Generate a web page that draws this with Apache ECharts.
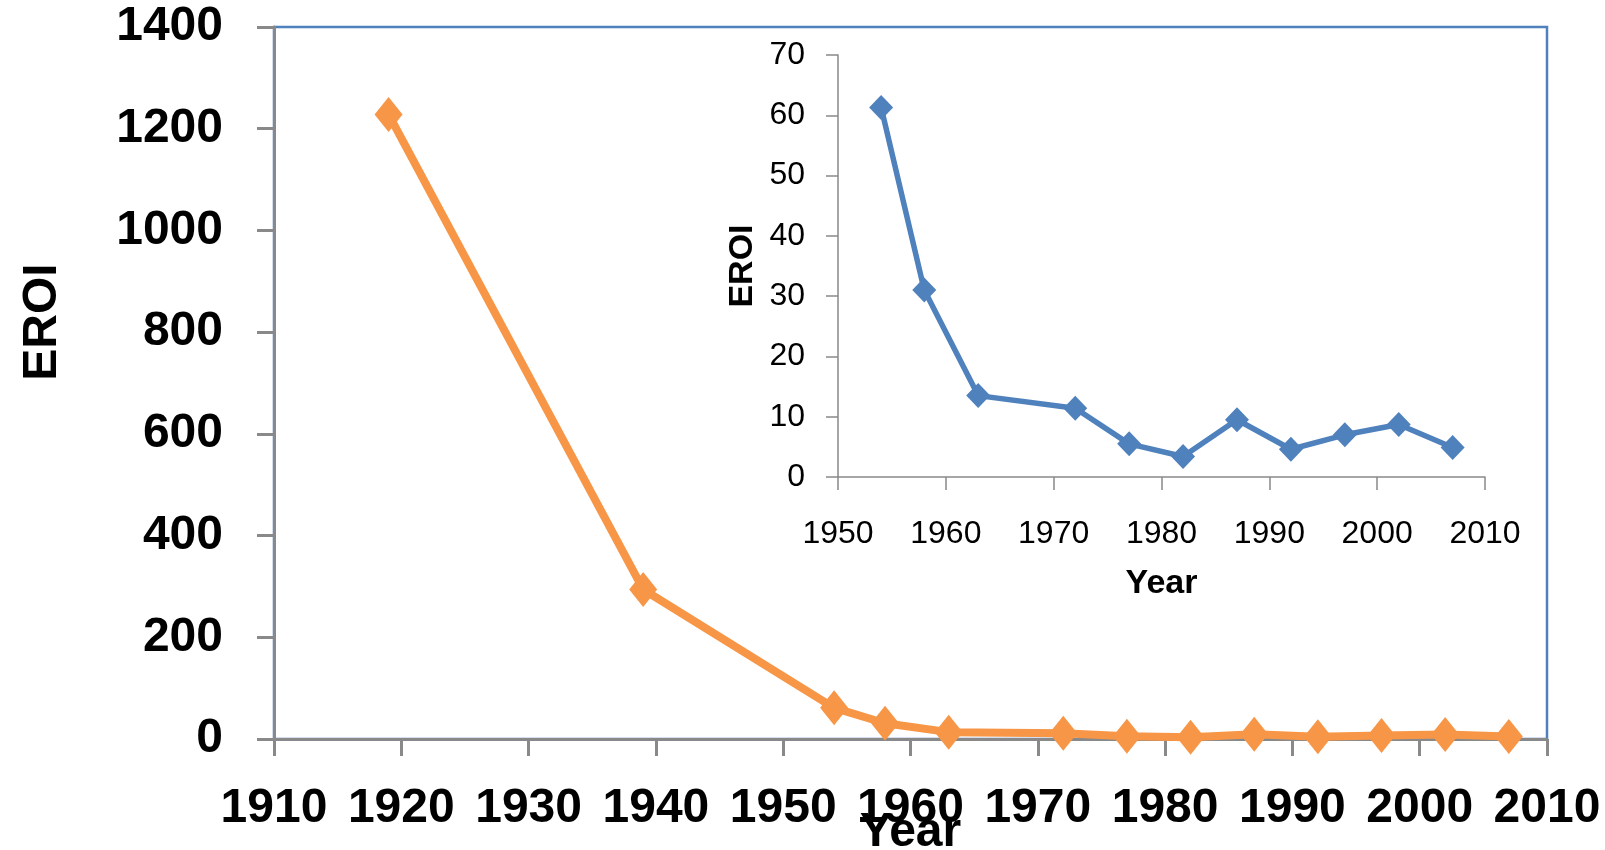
<!DOCTYPE html>
<html>
<head>
<meta charset="utf-8">
<script src="https://cdn.jsdelivr.net/npm/echarts@6/dist/echarts.min.js"></script>
<style>
html,body{margin:0;padding:0;background:#fff;}
#chart{width:1605px;height:850px;}
</style>
</head>
<body>
<div id="chart"></div>
<script>
// Main chart data
const mainYears = [1919, 1939, 1954, 1958, 1963, 1972, 1977, 1982, 1987, 1992, 1997, 2002, 2007];
const mainEroi  = [1228, 294, 61.3, 31, 13.5, 11.4, 5.5, 3.4, 9.5, 4.6, 7, 8.7, 4.9];
// Inset chart data
const insetYears = [1954, 1958, 1963, 1972, 1977, 1982, 1987, 1992, 1997, 2002, 2007];
const insetEroi  = [61.3, 31, 13.5, 11.4, 5.5, 3.4, 9.5, 4.6, 7, 8.7, 4.9];

const mainPairs = mainYears.map((y, i) => [y, mainEroi[i]]);
const insetPairs = insetYears.map((y, i) => [y, insetEroi[i]]);

const chart = echarts.init(document.getElementById('chart'));
const grey = '#898989';
const font = 'Liberation Sans';

chart.setOption({
  animation: false,
  backgroundColor: '#fff',
  grid: [
    {left: 274, right: 58, top: 27, bottom: 111, show: true, borderColor: '#4f81bd', borderWidth: 2.5,
     backgroundColor: 'transparent', containLabel: false, outerBoundsMode: 'none'},
    {left: 838, right: 120, top: 55, bottom: 373, show: false, containLabel: false, outerBoundsMode: 'none'}
  ],
  xAxis: [
    {
      gridIndex: 0, type: 'value', min: 1910, max: 2010, interval: 10,
      axisLine: {show: true, onZero: false, lineStyle: {color: grey, width: 3}},
      axisTick: {show: true, length: 17, lineStyle: {color: grey, width: 3}},
      axisLabel: {margin: 46, fontSize: 48, fontWeight: 'bold', fontFamily: font, color: '#000', formatter: v => String(v)},
      splitLine: {show: false},
      name: 'Year', nameLocation: 'middle', nameGap: 70, nameMoveOverlap: false,
      nameTextStyle: {fontSize: 48, fontWeight: 'bold', fontFamily: font, color: '#000'}
    },
    {
      gridIndex: 1, type: 'value', min: 1950, max: 2010, interval: 10,
      axisLine: {show: true, onZero: false, lineStyle: {color: grey, width: 1.5}},
      axisTick: {show: true, length: 13, lineStyle: {color: grey, width: 1.5}},
      axisLabel: {margin: 41, fontSize: 32, fontFamily: font, color: '#000', formatter: v => String(v)},
      splitLine: {show: false},
      name: 'Year', nameLocation: 'middle', nameGap: 90, nameMoveOverlap: false,
      nameTextStyle: {fontSize: 34, fontWeight: 'bold', fontFamily: font, color: '#000'}
    }
  ],
  yAxis: [
    {
      gridIndex: 0, type: 'value', min: 0, max: 1400, interval: 200,
      axisLine: {show: true, lineStyle: {color: grey, width: 3}},
      axisTick: {show: true, length: 17, lineStyle: {color: grey, width: 3}},
      axisLabel: {margin: 51, fontSize: 48, fontWeight: 'bold', fontFamily: font, color: '#000', formatter: v => String(v)},
      splitLine: {show: false},
      name: 'EROI', nameLocation: 'middle', nameRotate: 90, nameGap: 207, nameMoveOverlap: false,
      nameTextStyle: {fontSize: 48, fontWeight: 'bold', fontFamily: font, color: '#000', padding: [0, 0, 0, 122]}
    },
    {
      gridIndex: 1, type: 'value', min: 0, max: 70, interval: 10,
      axisLine: {show: true, lineStyle: {color: grey, width: 1.5}},
      axisTick: {show: true, length: 12, lineStyle: {color: grey, width: 1.5}},
      axisLabel: {margin: 33, fontSize: 32, fontFamily: font, color: '#000', formatter: v => String(v)},
      splitLine: {show: false},
      name: 'EROI', nameLocation: 'middle', nameRotate: 90, nameGap: 78, nameMoveOverlap: false,
      nameTextStyle: {fontSize: 34, fontWeight: 'bold', fontFamily: font, color: '#000'}
    }
  ],
  series: [
    {
      type: 'line', xAxisIndex: 0, yAxisIndex: 0, data: mainPairs,
      symbol: 'diamond', symbolSize: [28, 35],
      lineStyle: {color: '#f79646', width: 8},
      itemStyle: {color: '#f79646'}
    },
    {
      type: 'line', xAxisIndex: 1, yAxisIndex: 1, data: insetPairs,
      symbol: 'diamond', symbolSize: [24, 25],
      lineStyle: {color: '#4f81bd', width: 5.5},
      itemStyle: {color: '#4f81bd'}
    }
  ]
});
</script>
</body>
</html>
